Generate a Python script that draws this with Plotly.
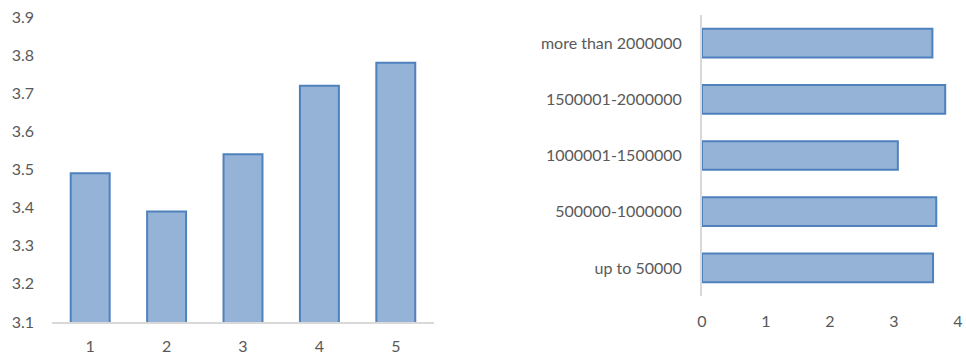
import plotly.graph_objects as go

left_categories = ["1", "2", "3", "4", "5"]
left_values = [3.49, 3.39, 3.54, 3.72, 3.78]

right_categories = ["up to 50000", "500000-1000000", "1000001-1500000", "1500001-2000000", "more than 2000000"]
right_values = [3.61, 3.66, 3.06, 3.80, 3.60]

left_ticks = [3.1, 3.2, 3.3, 3.4, 3.5, 3.6, 3.7, 3.8, 3.9]
right_ticks = [0, 1, 2, 3, 4]

FILL = "#95b3d7"
EDGE = "#4f81bd"
TXT = "#595959"
AXIS = "#d9d9d9"
FONT = "Lato, 'Open Sans', sans-serif"

fig = go.Figure()
fig.add_trace(go.Bar(x=left_categories, y=left_values,
                     marker=dict(color=FILL, line=dict(color=EDGE, width=2)),
                     xaxis="x", yaxis="y", showlegend=False))
fig.add_trace(go.Bar(y=right_categories, x=right_values, orientation="h",
                     marker=dict(color=FILL, line=dict(color=EDGE, width=2)),
                     xaxis="x2", yaxis="y2", showlegend=False))

W, H = 966, 356
fig.update_layout(
    template="none",
    width=W, height=H,
    margin=dict(l=0, r=0, t=0, b=0, pad=0),
    paper_bgcolor="white", plot_bgcolor="white",
    bargap=0.49,
    font=dict(family=FONT, size=16, color=TXT),
    xaxis=dict(domain=[52 / W, 434 / W], anchor="y", type="category",
               automargin=False,
               showline=True, linecolor=AXIS, linewidth=2, showgrid=False,
               ticks="", ticklabelstandoff=9, zeroline=False),
    yaxis=dict(domain=[(H - 322) / H, (H - 17) / H], anchor="x",
               automargin=False,
               range=[3.1, 3.9], tickvals=left_ticks,
               ticktext=[f"{v:.1f}" for v in left_ticks],
               showline=False, showgrid=False, zeroline=False,
               ticks="", ticklabelstandoff=17),
    xaxis2=dict(domain=[702 / W, 958 / W], anchor="y2", range=[0, 4],
                automargin=False,
                tickvals=right_ticks, showline=False, showgrid=False,
                zeroline=False, ticks="", ticklabelstandoff=14),
    yaxis2=dict(domain=[(H - 296) / H, (H - 15) / H], anchor="x2",
                automargin=False,
                type="category", showline=True, linecolor=AXIS, linewidth=2,
                showgrid=False, ticks="", ticklabelstandoff=15),
)

fig.write_html("out.html")
